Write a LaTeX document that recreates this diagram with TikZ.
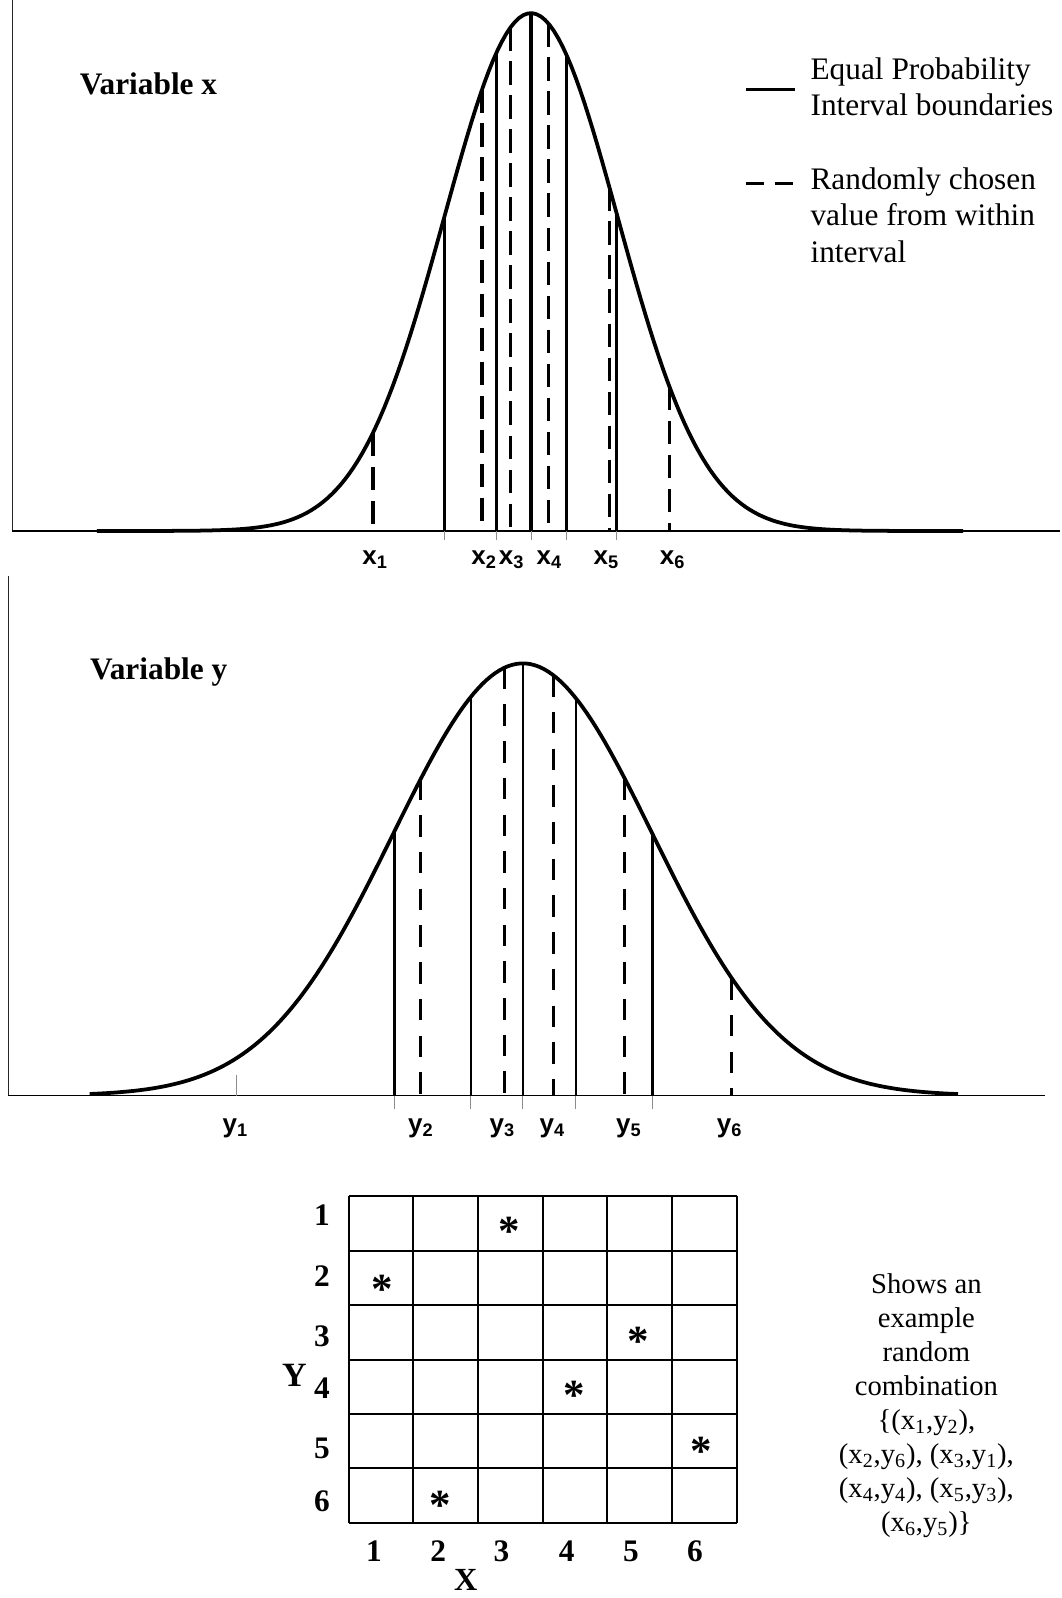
\documentclass[tikz,border=0pt]{standalone}
\usepackage{fontspec}
\setmainfont{Liberation Serif}
\newfontfamily\labelfont{Liberation Sans}
\usepackage{tikz}
\usetikzlibrary{positioning, calc}
\tikzset{
    axis_line/.style={draw=black!85, line width=0.6pt},
    base_line/.style={draw=black, line width=1pt},
    curve_line/.style={draw=black, line width=2.1pt},
    bound_thick/.style={draw=black, line width=1.9pt},
    pick_thick/.style={draw=black, line width=1.9pt, dash pattern=on 13pt off 6pt},
    bound_thin/.style={draw=black, line width=1.4pt},
    pick_thin/.style={draw=black, line width=1.6pt, dash pattern=on 12pt off 8.5pt},
    tick_line/.style={draw=black!45, line width=0.4pt},
    var_title/.style={anchor=base west, inner sep=0pt, font=\fontsize{17.5}{20}\selectfont\bfseries},
    legend_txt/.style={anchor=north west, inner sep=0pt, align=left, font=\fontsize{17.5}{20.5}\selectfont},
    val_lbl/.style={anchor=base, inner sep=0pt, font=\labelfont\bfseries\fontsize{14.5}{16}\selectfont},
    grid_line/.style={draw=black, line width=1.1pt},
    grid_num/.style={inner sep=0pt, font=\fontsize{17.5}{20}\selectfont\bfseries},
    star_mark/.style={anchor=base, inner sep=0pt, font=\fontsize{24}{24}\selectfont\bfseries},
    note_txt/.style={anchor=north, inner sep=0pt, align=center, font=\fontsize{16}{19}\selectfont},
    declare function={
        fx(\t)=521-508*exp(0-((\t-521)/85)*((\t-521)/85)/2);
        fy(\t)=1075-424*exp(0-((\t-513)/127)*((\t-513)/127)/2);
    }
}

\begin{document}
\begin{tikzpicture}[x=0.02cm, y=-0.02cm]
    \useasboundingbox (0,0) rectangle (1042,1568);

    % Panel 1: variable x
    \draw[axis_line] (12,0) -- (12,521);
    \draw[base_line] (12,521) -- (1040,521);
    \draw[curve_line] plot[domain=95:945, samples=200] (\x, {fx(\x)});
    \foreach \p in {436,487,521,556,605} {
        \draw[bound_thick] (\p,{fx(\p)}) -- (\p,521);
        \draw[tick_line] (\p,521) -- (\p,530);
    }
    \foreach \p in {366,473,501,538,598,657}
        \draw[pick_thick] (\p,{fx(\p)}) -- (\p,521);
    \node[var_title] (title_x) at (78,93) {Variable x};
    \node[val_lbl] (lbl_x1) at (368,554) {x\textsubscript{1}};
    \node[val_lbl] (lbl_x2) at (475,554) {x\textsubscript{2}};
    \node[val_lbl] (lbl_x3) at (502,554) {x\textsubscript{3}};
    \node[val_lbl] (lbl_x4) at (539,554) {x\textsubscript{4}};
    \node[val_lbl] (lbl_x5) at (595,554) {x\textsubscript{5}};
    \node[val_lbl] (lbl_x6) at (660,554) {x\textsubscript{6}};

    % Legend
    \coordinate (leg_solid) at (732,88);
    \coordinate (leg_dash) at (732,180);
    \draw[bound_thick] (leg_solid) -- ++(48,0);
    \draw[bound_thick, dash pattern=on 10pt off 6pt] (leg_dash) -- ++(48,0);
    \node[legend_txt] (leg_bound) at (795,56) {Equal Probability\\Interval boundaries};
    \node[legend_txt] (leg_pick) at (795,164) {Randomly chosen\\value from within\\interval};

    % Panel 2: variable y
    \draw[axis_line] (8,565) -- (8,1075);
    \draw[base_line] (8,1075) -- (1025,1075);
    \draw[curve_line] plot[domain=88:940, samples=200] (\x, {fy(\x)});
    \foreach \p in {387,462,513,565,640} {
        \draw[bound_thin] (\p,{fy(\p)}) -- (\p,1075);
        \draw[tick_line] (\p,1075) -- (\p,1088);
    }
    \foreach \p in {413,495,543,613,718}
        \draw[pick_thin] (\p,{fy(\p)}) -- (\p,1075);
    \draw[tick_line] (232,1055) -- (232,1075);
    \node[var_title] (title_y) at (88,667) {Variable y};
    \node[val_lbl] (lbl_y1) at (231,1111) {y\textsubscript{1}};
    \node[val_lbl] (lbl_y2) at (413,1111) {y\textsubscript{2}};
    \node[val_lbl] (lbl_y3) at (493,1111) {y\textsubscript{3}};
    \node[val_lbl] (lbl_y4) at (542,1111) {y\textsubscript{4}};
    \node[val_lbl] (lbl_y5) at (617,1111) {y\textsubscript{5}};
    \node[val_lbl] (lbl_y6) at (716,1111) {y\textsubscript{6}};

    % Panel 3: combination grid
    \foreach \i in {0,...,6} {
        \draw[grid_line] ({342+\i*63.5},1174) -- ({342+\i*63.5},1494);
        \draw[grid_line] (342,{1174+\i*53.33}) -- (723,{1174+\i*53.33});
    }
    \foreach \r/\yy in {1/1192,2/1252,3/1311,4/1362,5/1421,6/1473}
        \node[grid_num] (row_\r) at (316,\yy) {\r};
    \foreach \c/\xx in {1/367,2/430,3/492,4/556,5/619,6/682}
        \node[grid_num] (col_\c) at (\xx,1522) {\c};
    \node[grid_num, font=\fontsize{19}{20}\selectfont\bfseries] (axis_Y) at (289,1350) {Y};
    \node[grid_num, anchor=base, font=\fontsize{18}{20}\selectfont\bfseries] (axis_X) at (457,1561) {X};
    \foreach \n/\xx/\yy in {a/500/1205,b/375/1262,c/626/1313,d/563/1366,e/688/1421,f/432/1474}
        \node[star_mark] (star_\n) at (\xx,{\yy+17}) {*};
    \node[note_txt] (note) at (909,1249) {Shows an\\example\\random\\combination\\
        \{(x\textsubscript{1},y\textsubscript{2}),\\
        (x\textsubscript{2},y\textsubscript{6}), (x\textsubscript{3},y\textsubscript{1}),\\
        (x\textsubscript{4},y\textsubscript{4}), (x\textsubscript{5},y\textsubscript{3}),\\
        (x\textsubscript{6},y\textsubscript{5})\}};
\end{tikzpicture}
\end{document}
